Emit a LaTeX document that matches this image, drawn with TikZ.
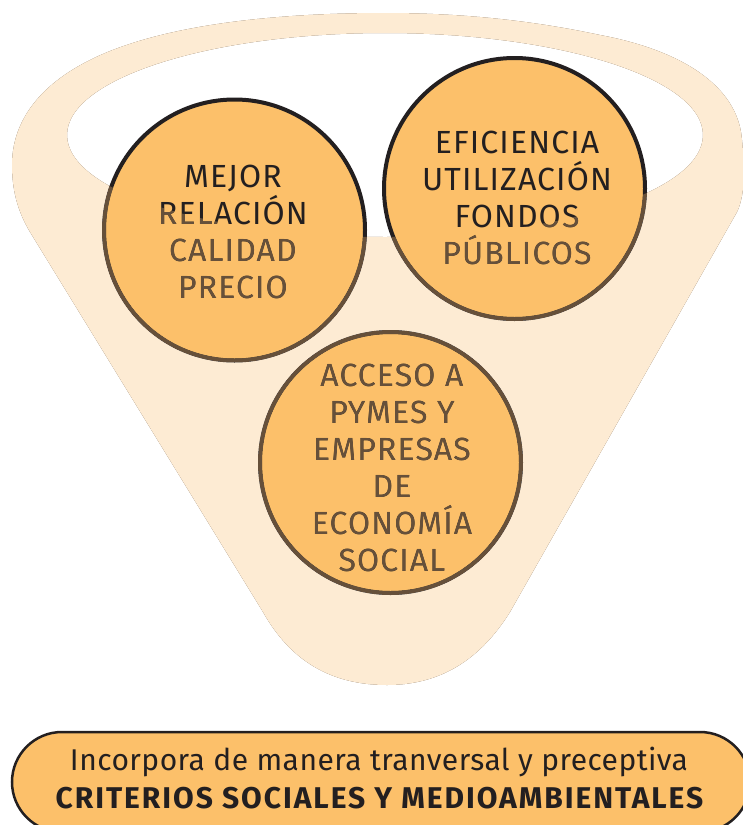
\documentclass[tikz,border=0pt]{standalone}
\usepackage{fontspec}
\setmainfont{Fira Sans}
\definecolor{creamc}{HTML}{FDEBD3}
\definecolor{orangec}{HTML}{FCC06A}
\definecolor{darkc}{HTML}{231F20}
\definecolor{brownc}{HTML}{66503A}
\tikzset{
  ball/.style={circle, draw=darkc, fill=orangec, line width=4pt, minimum size=261pt, inner sep=0pt},
  balltext/.style={text=darkc, align=center, inner sep=0pt, font=\fontsize{32}{37}\selectfont\addfontfeatures{LetterSpace=3.5}},
  pillbox/.style={draw=darkc, fill=orangec, line width=2.5pt, rounded corners=50pt, minimum width=738pt, minimum height=100pt, inner sep=0pt},
}
\begin{document}
\begin{tikzpicture}[x=1pt,y=-1pt]
\useasboundingbox (0,0) rectangle (743,825);
% funnel with elliptical opening
\path[save path=\funnelp] (385,13) .. controls (250,13) and (150,30) .. (90,60)
  .. controls (30,90) and (12,130) .. (12,165)
  .. controls (12,195) and (20,215) .. (30,232)
  -- (263,612) .. controls (290,660) and (330,685) .. (387,685)
  .. controls (440,685) and (480,660) .. (510,612)
  -- (737,212) .. controls (745,195) and (745,170) .. (742,140)
  .. controls (738,85) and (680,50) .. (600,35)
  .. controls (530,20) and (460,13) .. (385,13) -- cycle
  (385,135) ellipse [x radius=318, y radius=102];
\path[use path=\funnelp, fill=creamc, even odd rule];
% circles
\node[ball] (c1) at (234.5,230) {};
\node[ball] (c2) at (514.5,188.5) {};
\node[ball] (c3) at (390.5,462.5) {};
\node[balltext] (t1) at (233,231.5) {MEJOR\\RELACIÓN\\CALIDAD\\PRECIO};
\node[balltext] (t2) at (517,197.5) {EFICIENCIA\\UTILIZACIÓN\\FONDOS\\PÚBLICOS};
\node[balltext] (t3) at (392,467.5) {ACCESO A\\PYMES Y\\EMPRESAS\\DE\\ECONOMÍA\\SOCIAL};
% tint of the funnel body over the circles
\path[use path=\funnelp, fill=brownc, even odd rule, blend mode=lighten];
% bottom banner
\node[pillbox] (pill) at (381,782) {};
\node[anchor=base, text=darkc, inner sep=0pt, font=\fontsize{30}{36}\selectfont\addfontfeatures{LetterSpace=1.5}] (l1) at (379,770) {Incorpora de manera tranversal y preceptiva};
\node[anchor=base, text=darkc, inner sep=0pt, font=\fontsize{30}{36}\selectfont\bfseries\addfontfeatures{LetterSpace=6.5}] (l2) at (379.5,808) {CRITERIOS SOCIALES Y MEDIOAMBIENTALES};
\end{tikzpicture}
\end{document}
